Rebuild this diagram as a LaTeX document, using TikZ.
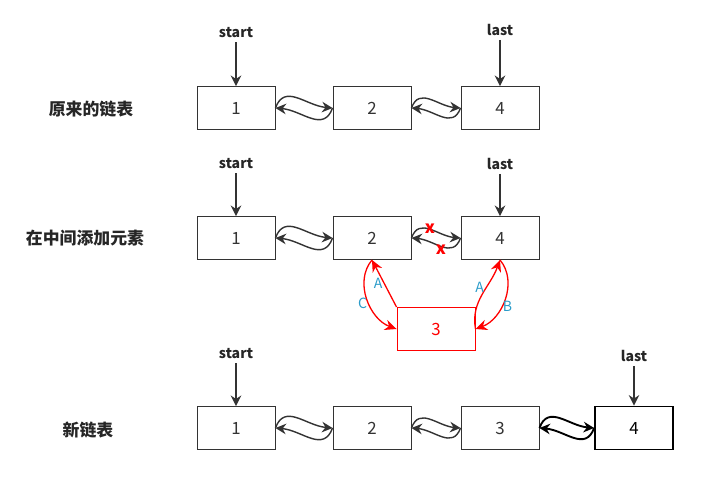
\documentclass[tikz,border=0pt]{standalone}
\usepackage{fontspec}
\setmainfont{Noto Sans CJK SC}
\usetikzlibrary{arrows.meta}
\begin{document}
\begin{tikzpicture}[x=0.03cm,y=-0.03cm,
		listbox/.style={draw=black!80,line width=0.8pt,minimum width=2.34cm,minimum height=1.29cm,inner sep=0pt,text=black!80,font=\Large},
		newbox/.style={listbox,draw=red,text=red},
		endbox/.style={listbox,draw=black,line width=1.5pt,text=black},
		tag/.style={font=\bfseries\large,text=black!85},
		title/.style={font=\bfseries\Large,text=black!85},
		lnk/.style={draw=black!80,line width=1.2pt,-{Stealth[length=9pt,width=9pt]}},
		rlnk/.style={draw=red,line width=1.1pt,-{Stealth[length=10pt,width=9pt]}},
		lbl/.style={text=cyan!80!black,font=\large,inner sep=1pt},
		cross/.style={text=red,font=\bfseries\Large,inner sep=0pt}
		]
		\useasboundingbox (0,0) rectangle (715,493);
		
		% original list
		\node[title] (T1) at (91,109) {原来的链表};
		\node[listbox] (A1) at (236,108) {1};
		\node[listbox] (A2) at (372,108) {2};
		\node[listbox] (A4) at (500,108) {4};
		\node[tag] (S1) at (236,33) {start};
		\node[tag] (L1) at (500,30) {last};
		\draw[lnk] (S1) -- (A1);
		\draw[lnk] (L1) -- (A4);
		\draw[lnk] (A1.east) to[out=70,in=175,looseness=1.2] (A2.west);
		\draw[lnk] (A2.west) to[out=250,in=-5,looseness=1.2] (A1.east);
		\draw[lnk] (A2.east) to[out=70,in=175,looseness=1.2] (A4.west);
		\draw[lnk] (A4.west) to[out=250,in=-5,looseness=1.2] (A2.east);
		
		% inserting
		\node[title] (T2) at (85,238) {在中间添加元素};
		\node[listbox] (B1) at (236,238) {1};
		\node[listbox] (B2) at (372,238) {2};
		\node[listbox] (B4) at (500,238) {4};
		\node[newbox] (B3) at (436,329) {3};
		\node[tag] (S2) at (236,164) {start};
		\node[tag] (L2) at (500,164) {last};
		\draw[lnk] (S2) -- (B1);
		\draw[lnk] (L2) -- (B4);
		\draw[lnk] (B1.east) to[out=70,in=175,looseness=1.2] (B2.west);
		\draw[lnk] (B2.west) to[out=250,in=-5,looseness=1.2] (B1.east);
		\draw[lnk] (B2.east) to[out=70,in=175,looseness=1.2] (B4.west);
		\draw[lnk] (B4.west) to[out=250,in=-5,looseness=1.2] (B2.east);
		\node[cross] (X1) at (430,229) {x};
		\node[cross] (X2) at (441,250) {x};
		\draw[rlnk] (B3.north west) -- node[lbl,pos=0.5,left] {A} (B2.south);
		\draw[rlnk] (B2.south) to[out=230,in=160] node[lbl,pos=0.55,left] {C} (B3.west);
		\draw[rlnk] (B3.east) to[out=100,in=250] node[lbl,pos=0.6,left] {A} (B4.south);
		\draw[rlnk] (B4.south) to[out=-50,in=20] node[lbl,pos=0.6,right] {B} (B3.east);
		
		% new list
		\node[title] (T3) at (88,430) {新链表};
		\node[listbox] (C1) at (236,428) {1};
		\node[listbox] (C2) at (372,428) {2};
		\node[listbox] (C3) at (500,428) {3};
		\node[endbox] (C4) at (634,428) {4};
		\node[tag] (S3) at (236,354) {start};
		\node[tag] (L3) at (634,356) {last};
		\draw[lnk] (S3) -- (C1);
		\draw[lnk] (L3) -- (C4);
		\draw[lnk] (C1.east) to[out=70,in=175,looseness=1.2] (C2.west);
		\draw[lnk] (C2.west) to[out=250,in=-5,looseness=1.2] (C1.east);
		\draw[lnk] (C2.east) to[out=70,in=175,looseness=1.2] (C3.west);
		\draw[lnk] (C3.west) to[out=250,in=-5,looseness=1.2] (C2.east);
		\draw[lnk,draw=black,line width=1.6pt] (C3.east) to[out=70,in=175,looseness=1.2] (C4.west);
		\draw[lnk,draw=black,line width=1.6pt] (C4.west) to[out=250,in=-5,looseness=1.2] (C3.east);
	\end{tikzpicture}
\end{document}
